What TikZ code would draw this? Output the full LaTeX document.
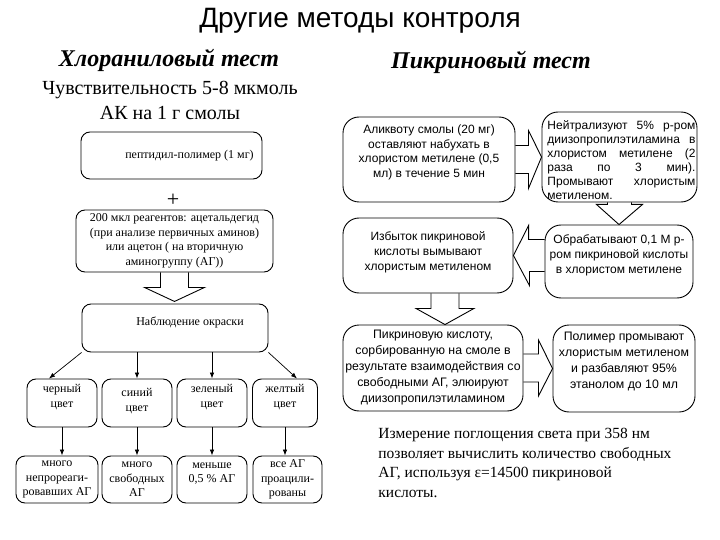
\documentclass[tikz,border=0pt]{standalone}
\usepackage{fontspec}
\setmainfont{Liberation Serif}
\newfontfamily\arialfont{Liberation Sans}
\usetikzlibrary{arrows.meta,calc}

\begin{document}
\begin{tikzpicture}[x=1pt,y=-1pt,line width=0.9pt,
    lbox/.style={draw,rounded corners=9pt,align=center,inner sep=2pt,font=\fontsize{12}{14.5}\selectfont},
    rbox/.style={draw,rounded corners=16pt,align=center,inner sep=2pt,font=\arialfont\fontsize{12}{15}\selectfont},
    arr/.style={-{Latex[length=6pt,width=4.5pt]},line width=0.7pt},
    barr/.style={line width=0.9pt,line join=miter}]
    \useasboundingbox (0,0) rectangle (720,540);
    \node[font=\arialfont\fontsize{28}{32}\selectfont] (title) at (360,21) {Другие методы контроля};
    \node[font=\bfseries\itshape\fontsize{24}{28}\selectfont] (hChl) at (169,60) {Хлораниловый тест};
    \node[font=\bfseries\itshape\fontsize{24}{28}\selectfont] (hPic) at (491,62) {Пикриновый тест};
    \node[align=center,font=\fontsize{20}{25}\selectfont] (sens) at (170,100) {Чувствительность 5-8 мкмоль\\АК на 1 г смолы};
    \node[lbox,minimum width=181,minimum height=47] (pep) at (171.5,155.5) {\hspace*{36pt}пептидил-полимер (1 мг)};
    \node[font=\fontsize{22}{22}\selectfont] (plus) at (173,200) {+};
    \node[lbox,minimum width=197,minimum height=62] (reag) at (174.5,241) {200 мкл реагентов: ацетальдегид\\(при анализе первичных аминов)\\или ацетон ( на вторичную\\аминогруппу (АГ))};
    \draw[barr] ($(reag.south)+(-14,0)$) -- ++(0,15) -- ++(-16,0) -- ($(reag.south)+(0,29)$) -- ($(reag.south)+(30,15)$) -- ++(-16,0) -- ++(0,-15);
    \node[lbox,minimum width=186,minimum height=48,text depth=14pt] (obs) at (175,328) {\hspace*{30pt}Наблюдение окраски};
    \node[lbox,minimum width=70,minimum height=48,text depth=14pt] (cBlack) at (62,403) {черный\\цвет};
    \node[lbox,minimum width=70,minimum height=48,text depth=6pt] (cBlue) at (137,403) {синий\\цвет};
    \node[lbox,minimum width=70,minimum height=48,text depth=14pt] (cGreen) at (212,403) {зеленый\\цвет};
    \node[lbox,minimum width=65,minimum height=48,text depth=14pt] (cYellow) at (285,403) {желтый\\цвет};
    \node[lbox,minimum width=82,minimum height=47] (bBlack) at (57,479.5) {много\\непрореаги-\\ровавших АГ};
    \node[lbox,minimum width=70,minimum height=47] (bBlue) at (137,479.5) {много\\свободных\\АГ};
    \node[lbox,minimum width=70,minimum height=47,text depth=14pt] (bGreen) at (212,479.5) {меньше\\0,5 \% АГ};
    \node[lbox,minimum width=69,minimum height=47] (bYellow) at (287.5,479.5) {все АГ\\проацили-\\рованы};
    \draw[arr] (obs.south west) -- ($(cBlack.north)+(-13,0)$);
    \draw[arr] (obs.south -| cBlue.north) -- (cBlue.north);
    \draw[arr] (obs.south -| cGreen.north) -- (cGreen.north);
    \draw[arr] (obs.south east) -- ($(cYellow.north)+(12,0)$);
    \foreach \c in {Black,Blue,Green,Yellow}
        \draw[arr] (c\c.south) -- (c\c.south |- b\c.north);
    \node[rbox,minimum width=172,minimum height=85,text depth=17pt,font=\arialfont\fontsize{12}{14.5}\selectfont] (alq) at (429,159.5) {Аликвоту смолы (20 мг)\\оставляют набухать в\\хлористом метилене (0,5\\мл) в течение 5 мин};
    \node[rbox,minimum width=155,minimum height=90] (neu) at (619.5,157) {};
    \node[anchor=north west,inner sep=0,text width=148pt,align=justify,font=\arialfont\fontsize{12}{14}\selectfont] (neuText) at (547,120) {Нейтрализуют 5\% р-ром\linebreak диизопропилэтиламина в\linebreak хлористом метилене (2\linebreak раза по 3 мин).\linebreak Промывают хлористым\linebreak метиленом.};
    \draw[barr] ($(alq.east)+(0,-14)$) -- ++(13,0) -- ++(0,-15) -- (neu.west) -- ($(alq.east)+(13,29)$) -- ++(0,-15) -- ++(-13,0);
    \node[rbox,minimum width=148,minimum height=73,text depth=15pt] (treat) at (619,261.5) {Обрабатывают 0,1 М р-\\ром пикриновой кислоты\\в хлористом метилене};
    \draw[barr] ($(neu.south)+(-12,0)$) -- ++(0,2) -- ++(-11,0) -- (treat.north) -- ($(neu.south)+(23,2)$) -- ++(-11,0) -- ++(0,-2);
    \node[rbox,minimum width=170,minimum height=75,text depth=9pt] (exc) at (428,255.5) {Избыток пикриновой\\кислоты вымывают\\хлористым метиленом};
    \draw[barr] ($(treat.west |- exc.east)+(0,-16)$) -- ++(-16,0) -- ++(0,-14) -- (exc.east) -- ++(16,30) -- ++(0,-14) -- ($(treat.west |- exc.east)+(0,16)$);
    \node[rbox,minimum width=180,minimum height=86,font=\arialfont\fontsize{12.3}{16}\selectfont] (elu) at (433,368) {Пикриновую кислоту,\\сорбированную на смоле в\\результате взаимодействия со\\свободными АГ, элюируют\\диизопропилэтиламином};
    \coordinate (dTop) at ($(exc.south)+(17,0)$);
    \draw[barr] ($(dTop)+(-14,0)$) -- ++(0,15) -- ++(-15,0) -- (dTop |- elu.north) -- ($(dTop)+(29,15)$) -- ++(-15,0) -- ++(0,-15);
    \node[rbox,minimum width=142,minimum height=87,text depth=17pt,font=\arialfont\fontsize{12.3}{16}\selectfont] (pol) at (624,368.5) {Полимер промывают\\хлористым метиленом\\и разбавляют 95\%\\этанолом до 10 мл};
    \draw[barr] ($(elu.east)+(0,-14)$) -- ++(15,0) -- ++(0,-14) -- (pol.west) -- ($(elu.east)+(15,28)$) -- ++(0,-14) -- ++(-15,0);
    \node[anchor=north west,align=left,inner sep=0,font=\fontsize{15.5}{19.5}\selectfont] (meas) at (378,428) {Измерение поглощения света при 358 нм\\позволяет вычислить количество свободных\\АГ, используя ε=14500 пикриновой\\кислоты.};
\end{tikzpicture}
\end{document}
